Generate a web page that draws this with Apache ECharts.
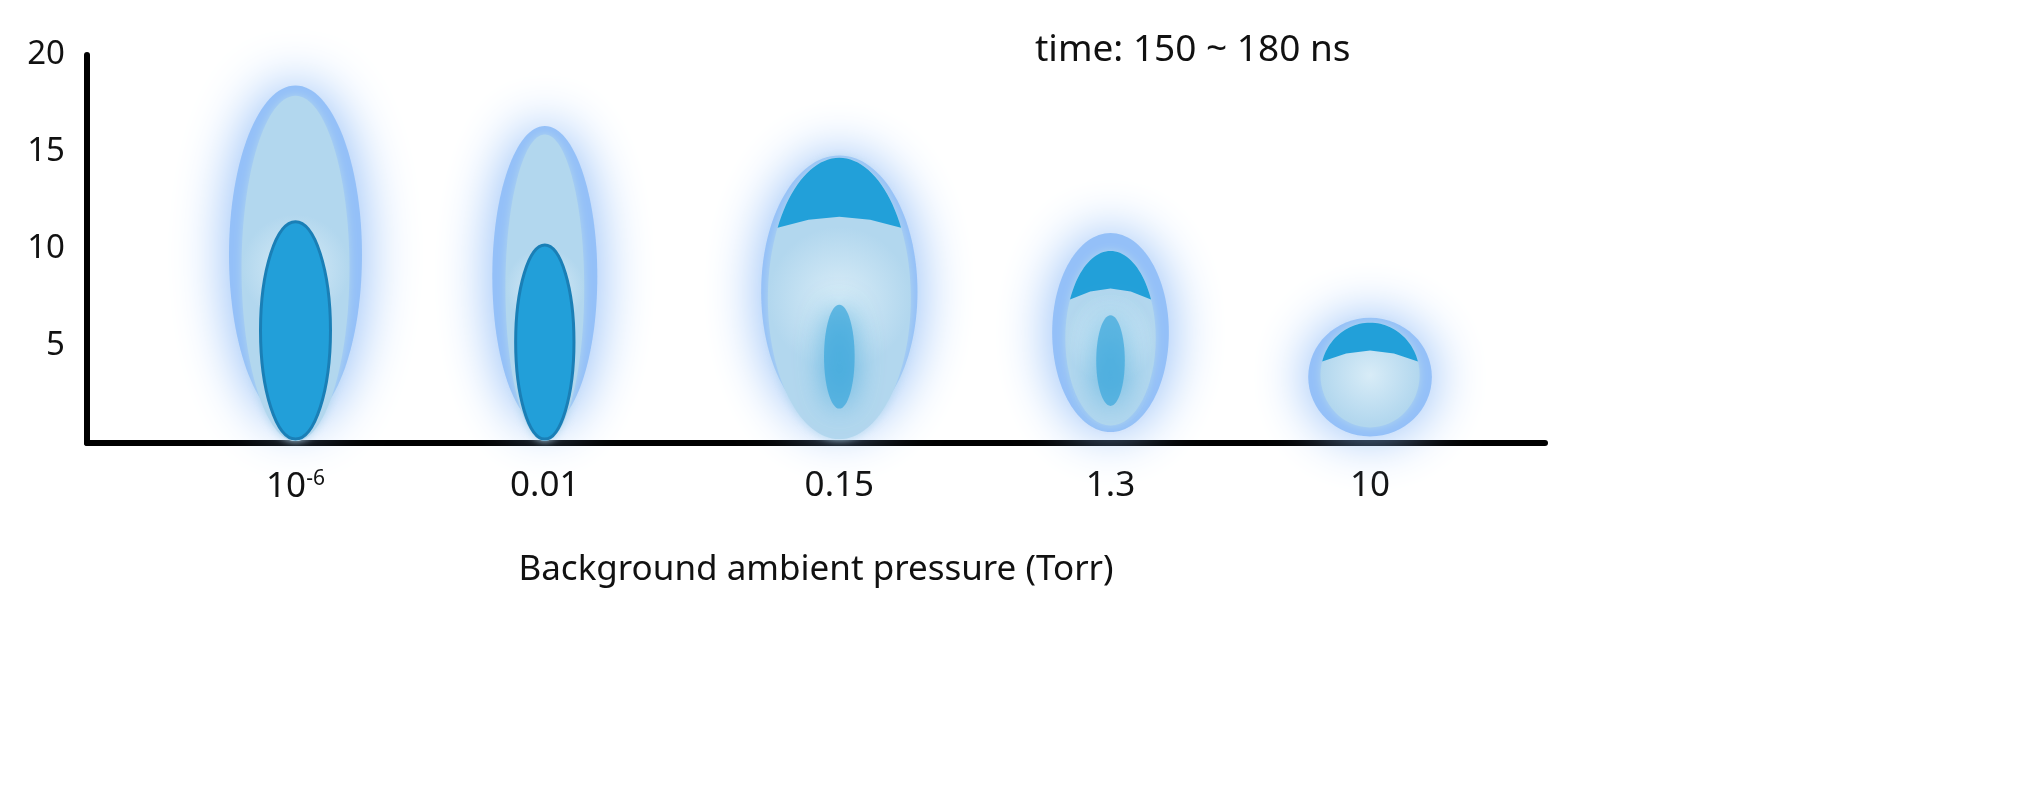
<!DOCTYPE html>
<html><head><meta charset="utf-8">
<script src="https://cdn.jsdelivr.net/npm/echarts@6/dist/echarts.min.js"></script>
<style>body{margin:0;background:#fff}#chart{width:2029px;height:799px}</style>
</head><body><div id="chart"></div>
<script>
// pressure categories and their x position (0..100 along axis)
var labels = ['10^-6', '0.01', '0.15', '1.3', '10'];
var xPos = [14.3, 31.4, 51.6, 70.2, 88.0];
// plume shape (data units): glow, light body, dark core, dark cap
var glowTop = [19.4, 17.2, 15.6, 11.4, 6.8];
var glowHalfW = [5.7, 4.5, 6.7, 5.0, 5.3];
var lightTop = [17.9, 15.9, 14.7, 9.9, 6.2];
var lightBottom = [0.1, 0.1, 0.2, 0.9, 0.8];
var lightHalfW = [3.7, 2.7, 4.9, 3.1, 3.4];
var coreTop = [11.4, 10.2, 7.6, 7.0, 0];
var coreBottom = [0.2, 0.2, 1.3, 1.5, 0];
var coreHalfW = [2.4, 2.0, 1.5, 1.4, 0];
var capBottom = [0, 0, 11.1, 7.4, 4.2];
var coreSoft = [0, 0, 1, 1, 0];

var chart = echarts.init(document.getElementById('chart'));
var data = [];
for (var i = 0; i < xPos.length; i++) data.push([xPos[i], i]);

function ellipse(api, cx, top, bottom, hw) {
    var c = api.coord([cx, (top + bottom) / 2]);
    var s = api.size([hw, (top - bottom) / 2]);
    return {cx: c[0], cy: c[1], rx: s[0], ry: s[1]};
}

var option = {
    animation: false,
    grid: {left: 87, right: 484, top: 55, bottom: 356},
    xAxis: {
        type: 'value', min: 0, max: 100,
        splitLine: {show: false},
        axisLine: {show: true, onZero: false, lineStyle: {color: '#000', width: 6}},
        axisTick: {show: false},
        axisLabel: {
            customValues: xPos, margin: 26,
            formatter: function (v) {
                var k = xPos.indexOf(v);
                if (k == 0) return '10{sup|-6}';
                return labels[k];
            },
            color: '#111', fontSize: 35, fontFamily: 'Noto Sans',
            rich: {sup: {fontSize: 21, verticalAlign: 'top', padding: [0, 0, 16, 0], color: '#111', fontFamily: 'Noto Sans'}}
        },
        name: 'Background ambient pressure (Torr)',
        nameLocation: 'middle', nameGap: 110,
        nameTextStyle: {color: '#111', fontSize: 35, fontFamily: 'Noto Sans'}
    },
    yAxis: {
        type: 'value', min: 0, max: 20, interval: 5,
        splitLine: {show: false},
        axisLine: {show: true, lineStyle: {color: '#000', width: 6}},
        axisTick: {show: false},
        axisLabel: {
            formatter: function (v) { return v == 0 ? '' : v; },
            color: '#111', fontSize: 33, fontFamily: 'Noto Sans', margin: 22
        }
    },
    graphic: [{
        type: 'text', left: 1035, top: 32,
        style: {text: 'time: 150 ~ 180 ns', fontSize: 37, fill: '#111', fontFamily: 'Noto Sans'}
    }],
    series: [{
        type: 'custom',
        clip: false,
        z: 1,
        data: data,
        renderItem: function (params, api) {
            var i = api.value(1);
            var cx = api.value(0);
            var children = [];
            var g = ellipse(api, cx, glowTop[i], 0.0, glowHalfW[i]);
            children.push({type: 'ellipse', shape: {cx: g.cx, cy: g.cy, rx: g.rx * 0.8, ry: g.ry * 0.9},
                style: {fill: '#94c0f8', shadowBlur: 55, shadowColor: '#8ab9f7'}});
            var l = ellipse(api, cx, lightTop[i], lightBottom[i], lightHalfW[i]);
            children.push({type: 'ellipse', shape: l,
                style: {fill: {type: 'radial', x: 0.5, y: 0.5, r: 0.5,
                    colorStops: [{offset: 0, color: '#d8ecf7'}, {offset: 1, color: '#b2d7ee'}]},
                    shadowBlur: 8, shadowColor: '#b2d7ee'}});
            if (capBottom[i] > 0) {
                // dark dome: part of light ellipse above capBottom
                var yb = api.coord([0, capBottom[i]])[1];
                var pts = [];
                for (var a = 0; a <= 180; a += 3) {
                    var t = a * Math.PI / 180;
                    var px = l.cx + l.rx * Math.cos(t);
                    var py = l.cy - l.ry * Math.sin(t);
                    if (py <= yb) pts.push([px, py]);
                }
                var hx = Math.sqrt(Math.max(0, 1 - Math.pow((yb - l.cy) / l.ry, 2))) * l.rx;
                pts.unshift([l.cx + hx, yb]);
                pts.push([l.cx - hx, yb]);
                // slightly domed bottom edge
                pts.push([l.cx - hx * 0.5, yb - 8]);
                pts.push([l.cx, yb - 11]);
                pts.push([l.cx + hx * 0.5, yb - 8]);
                children.push({type: 'polygon', shape: {points: pts}, style: {fill: '#22a0d9'}});
            }
            if (coreHalfW[i] > 0) {
                var c = ellipse(api, cx, coreTop[i], coreBottom[i], coreHalfW[i]);
                if (coreSoft[i]) {
                    children.push({type: 'ellipse', shape: {cx: c.cx, cy: c.cy, rx: c.rx * 0.7, ry: c.ry * 0.85},
                        style: {fill: '#3aa6db', opacity: 0.7, shadowBlur: 30, shadowColor: '#3aa6db'}});
                } else {
                    children.push({type: 'ellipse', shape: c,
                        style: {fill: '#229fd9', stroke: '#1a7fb6', lineWidth: 3}});
                }
            }
            return {type: 'group', children: children};
        }
    }]
};
chart.setOption(option);
</script>
</body></html>
